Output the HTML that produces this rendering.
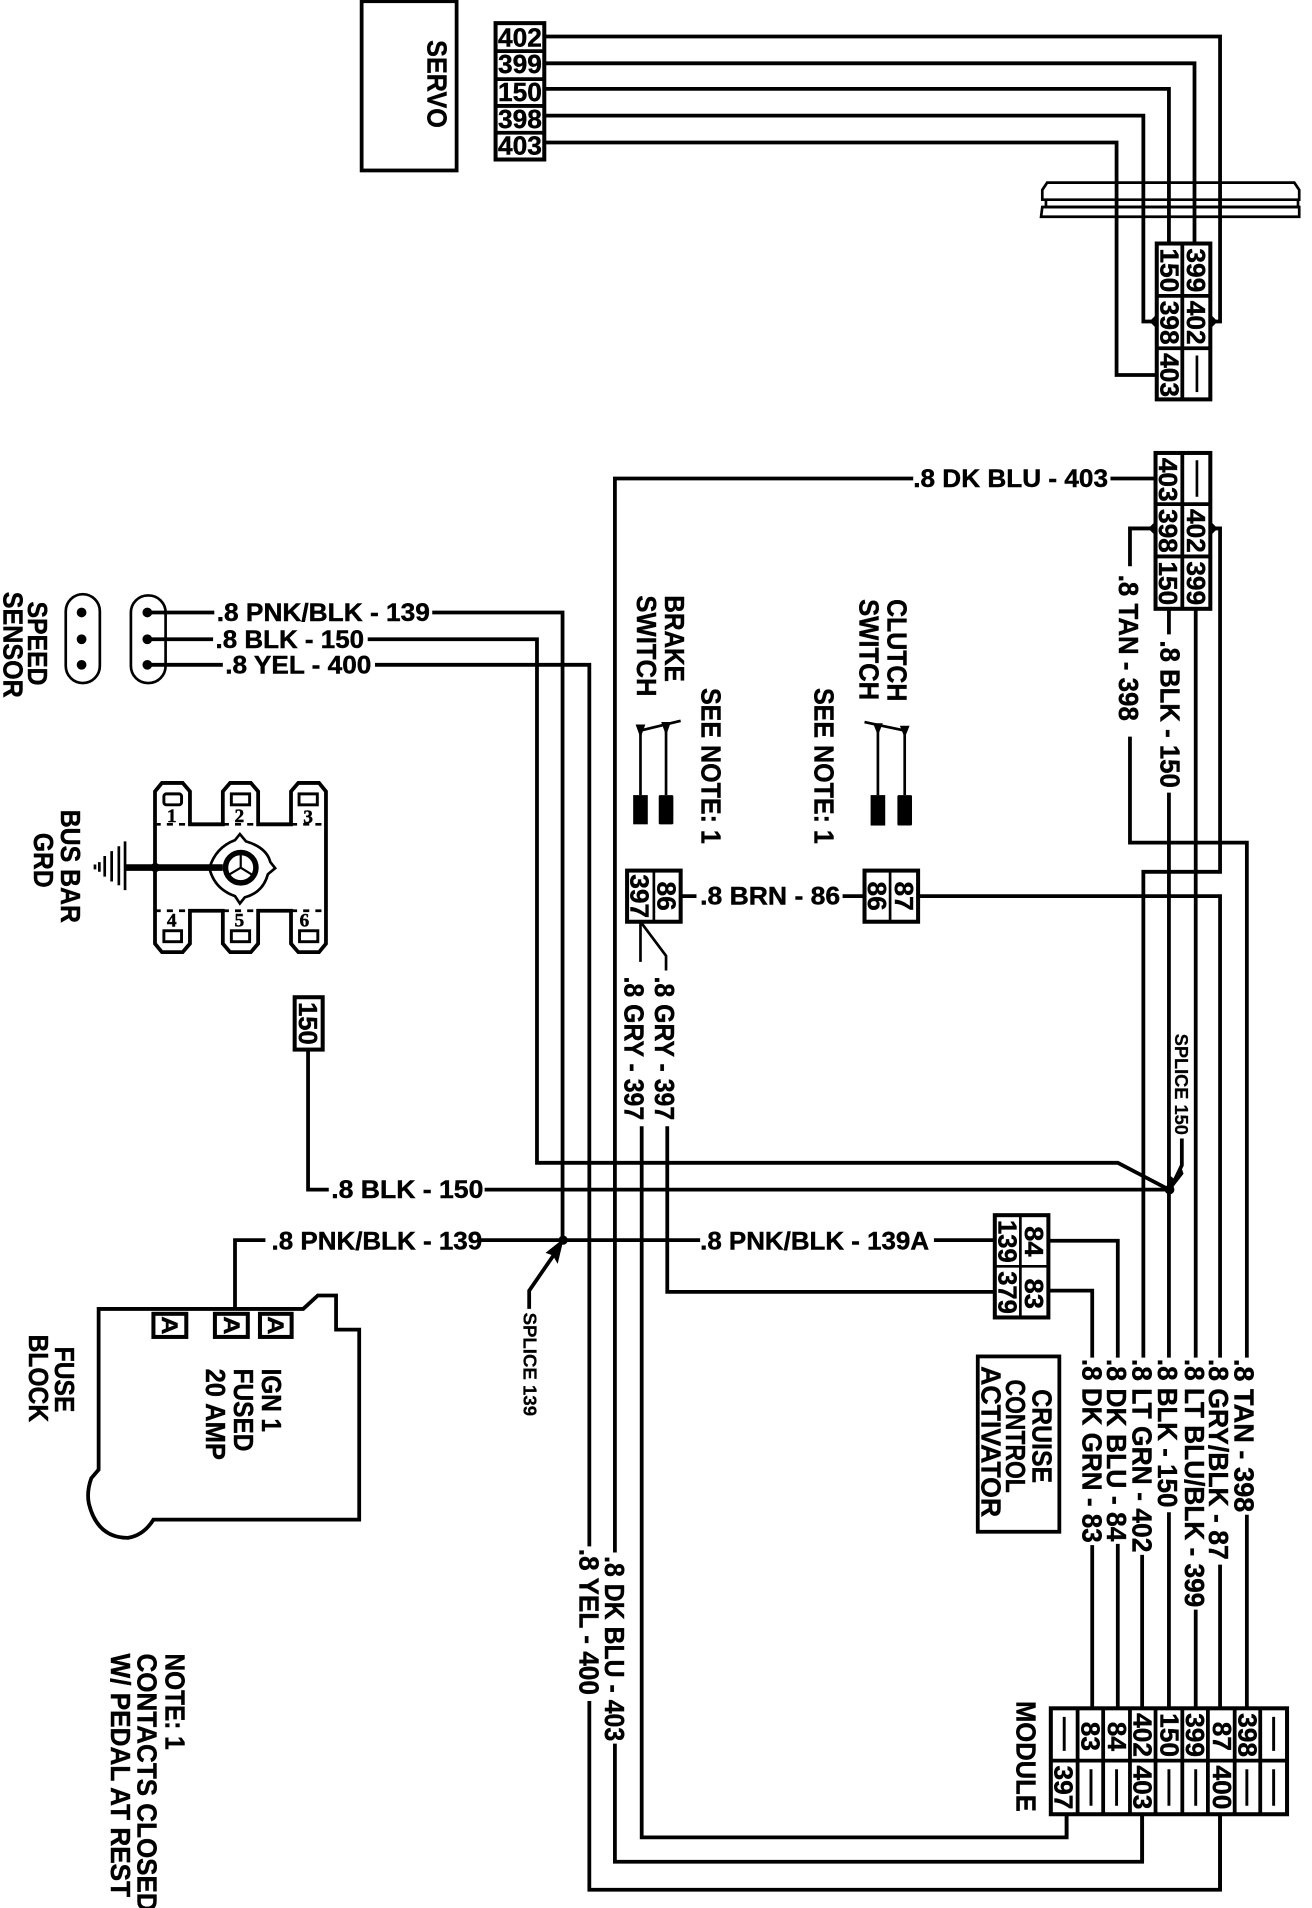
<!DOCTYPE html>
<html><head><meta charset="utf-8"><style>
html,body{margin:0;padding:0;background:#fff}
svg{display:block}
text{font-family:"Liberation Sans",sans-serif;font-weight:bold;fill:#000;stroke:#000;stroke-width:.35;font-size:20.5px}
text[transform]{font-size:22.5px}
.w{fill:none;stroke:#000;stroke-width:3.1}
.n{fill:none;stroke:#000;stroke-width:2.2}
.b{fill:#fff;stroke:#000;stroke-width:3.3}
text.s{font-size:15px;stroke-width:.2}
text.c{font-size:21.5px}
.d{font-family:"Liberation Serif",serif;font-size:16px;text-anchor:middle}
</style></head><body>
<svg xmlns="http://www.w3.org/2000/svg" width="1312" height="1908" viewBox="0 0 1077.5 1567" preserveAspectRatio="none">
<rect width="1077.5" height="1567" fill="#fff"/>

<!-- servo -->
<rect x="297" y="1" width="78" height="139" class="w"/>
<text transform="translate(351,33) rotate(90)" textLength="72" lengthAdjust="spacingAndGlyphs">SERVO</text>

<!-- wires top -->
<path class="w" d="M447,30H1002V264H993M447,52H981V201M447,73H960V201M447,95H939V264H950M447,117H917V308H950"/>

<!-- grommet -->
<path class="n" d="M860,150H1063L1067,156V164H856V156Z"/>
<path class="n" d="M859,164V170H1066V164"/>
<path class="n" d="M856,170H1067V178H855Z"/>

<!-- top-left connector -->
<rect x="407" y="19" width="40" height="112" class="b"/>
<path class="w" d="M407,42H447M407,65H447M407,87H447M407,109H447"/>
<text class="c" x="409" y="38" textLength="36" lengthAdjust="spacingAndGlyphs">402</text>
<text class="c" x="409" y="60" textLength="36" lengthAdjust="spacingAndGlyphs">399</text>
<text class="c" x="409" y="83" textLength="36" lengthAdjust="spacingAndGlyphs">150</text>
<text class="c" x="409" y="105" textLength="36" lengthAdjust="spacingAndGlyphs">398</text>
<text class="c" x="409" y="127" textLength="36" lengthAdjust="spacingAndGlyphs">403</text>

<!-- upper right connector -->
<rect x="950" y="200" width="44" height="128" class="b"/>
<path class="w" d="M971,200V328M950,243H994M950,286H994"/>
<text class="c" transform="translate(953,204) rotate(90)" textLength="36" lengthAdjust="spacingAndGlyphs">150</text>
<text class="c" transform="translate(953,247) rotate(90)" textLength="36" lengthAdjust="spacingAndGlyphs">398</text>
<text class="c" transform="translate(953,290) rotate(90)" textLength="36" lengthAdjust="spacingAndGlyphs">403</text>
<text class="c" transform="translate(975,204) rotate(90)" textLength="36" lengthAdjust="spacingAndGlyphs">399</text>
<text class="c" transform="translate(975,247) rotate(90)" textLength="36" lengthAdjust="spacingAndGlyphs">402</text>
<path class="n" d="M983,292V322"/>
<path d="M950,258L944,264L950,270ZM994,258L1000,264L994,270Z" fill="#000"/>

<!-- lower right connector -->
<rect x="949" y="372" width="45" height="128" class="b"/>
<path class="w" d="M971,372V500M949,414H994M949,457H994"/>
<text class="c" transform="translate(952,376) rotate(90)" textLength="36" lengthAdjust="spacingAndGlyphs">403</text>
<text class="c" transform="translate(952,418) rotate(90)" textLength="36" lengthAdjust="spacingAndGlyphs">398</text>
<text class="c" transform="translate(952,461) rotate(90)" textLength="36" lengthAdjust="spacingAndGlyphs">150</text>
<text class="c" transform="translate(975,418) rotate(90)" textLength="36" lengthAdjust="spacingAndGlyphs">402</text>
<text class="c" transform="translate(975,461) rotate(90)" textLength="36" lengthAdjust="spacingAndGlyphs">399</text>
<path class="n" d="M983,378V408"/>
<path d="M949,428L943,434L949,440ZM994,428L1000,434L994,440Z" fill="#000"/>

<!-- right-hand wires -->
<path class="w" d="M949,434H928V465M928,605V692H1024V1115"/>
<path class="w" d="M994,434H1002V716H939V1115"/>
<path class="w" d="M960,500V521M960,651V1115"/>
<path class="w" d="M982,500V1115"/>
<path class="w" d="M754,736H1002V1115"/>

<text transform="translate(919,472) rotate(90)" textLength="120" lengthAdjust="spacingAndGlyphs">.8 TAN - 398</text>
<text transform="translate(953,526) rotate(90)" textLength="121" lengthAdjust="spacingAndGlyphs">.8 BLK - 150</text>
<path class="w" d="M750,393H505V1275M912,393H949"/>
<text x="750" y="400" textLength="160" lengthAdjust="spacingAndGlyphs">.8 DK BLU - 403</text>

<!-- speed sensor -->
<rect x="54" y="488" width="28" height="73" rx="14" class="n"/>
<rect x="107.5" y="489" width="28.5" height="72" rx="14" class="n"/>
<g fill="#000"><circle cx="67" cy="503" r="4"/><circle cx="67" cy="525" r="4"/><circle cx="67" cy="546" r="4"/><circle cx="121" cy="503" r="4"/><circle cx="121" cy="525" r="4"/><circle cx="121" cy="546" r="4"/></g>
<text transform="translate(23,494) rotate(90)" textLength="69" lengthAdjust="spacingAndGlyphs">SPEED</text>
<text transform="translate(3,486) rotate(90)" textLength="87" lengthAdjust="spacingAndGlyphs">SENSOR</text>

<path class="w" d="M121,503H176M355,503H462V1018"/>
<path class="w" d="M121,525H175M302,525H441V955H918L960,977"/>
<path class="w" d="M121,546H183M308,546H484V1270"/>
<text x="178" y="510" textLength="175" lengthAdjust="spacingAndGlyphs">.8 PNK/BLK - 139</text>
<text x="177" y="532" textLength="122" lengthAdjust="spacingAndGlyphs">.8 BLK - 150</text>
<text x="185" y="553" textLength="120" lengthAdjust="spacingAndGlyphs">.8 YEL - 400</text>

<!-- bus bar -->
<text transform="translate(50,665) rotate(90)" textLength="93" lengthAdjust="spacingAndGlyphs">BUS BAR</text>
<text transform="translate(28,684) rotate(90)" textLength="45" lengthAdjust="spacingAndGlyphs">GRD</text>
<path class="w" d="M127.3,748V650L133,643H150L156,650V677H183V650L189,643H206L212,650V677H239V650L245,643H262L267.7,650V775L262,782H245L239,775V748H212V775L206,782H189L183,775V748H156V775L150,782H133L127.3,775Z"/>
<path fill="#fff" d="M130,672H153V679H130ZM186,672H209V679H186ZM242,672H265V679H242ZM130,746H153V752H130ZM186,746H209V752H186ZM242,746H265V752H242Z"/>
<path class="n" d="M127,677H156M183,677H212M239,677H268M127,748H156M183,748H212M239,748H268" stroke-dasharray="5 5"/>
<g fill="none" stroke="#000" stroke-width="2.4">
<rect x="134.6" y="652" width="14.5" height="9" rx="2"/><rect x="190" y="652" width="15" height="9"/><rect x="245.6" y="652" width="15" height="9"/>
<rect x="134.6" y="764.4" width="14.5" height="9"/><rect x="190" y="764.4" width="15" height="9"/><rect x="246" y="764.4" width="15" height="9"/>
</g>
<text class="d" x="141" y="675">1</text>
<text class="d" x="196.6" y="675">2</text>
<text class="d" x="253" y="676">3</text>
<text class="d" x="141" y="761">4</text>
<text class="d" x="196.6" y="761">5</text>
<text class="d" x="250" y="761">6</text>
<path d="M103,712.5H183" stroke="#000" stroke-width="5.5"/>
<circle cx="127.5" cy="712.5" r="3.8"/>
<path class="n" d="M197,685L202,691Q219,696 222,708L226,713L220,718Q216,733 201,737L197,742L193,736Q176,730 172,713Q177,696 193,690Z"/>
<circle cx="197.7" cy="712.6" r="12.5" fill="#fff" stroke="#000" stroke-width="4.5"/>
<path d="M197.7,712.6V701M197.7,712.6L187,719M197.7,712.6L208,719" stroke="#000" stroke-width="1.8"/>
<path d="M102.7,691V731M97.6,695V727M91.7,699V724M86,703V720M81.6,708V716M78,710V714" stroke="#000" stroke-width="2.2"/>

<!-- switches -->
<text transform="translate(546,489) rotate(90)" textLength="71" lengthAdjust="spacingAndGlyphs">BRAKE</text>
<text transform="translate(523,489) rotate(90)" textLength="83" lengthAdjust="spacingAndGlyphs">SWITCH</text>
<text transform="translate(729,492) rotate(90)" textLength="84" lengthAdjust="spacingAndGlyphs">CLUTCH</text>
<text transform="translate(706,492) rotate(90)" textLength="83" lengthAdjust="spacingAndGlyphs">SWITCH</text>
<text transform="translate(576,565) rotate(90)" textLength="128" lengthAdjust="spacingAndGlyphs">SEE NOTE: 1</text>
<text transform="translate(669,565) rotate(90)" textLength="128" lengthAdjust="spacingAndGlyphs">SEE NOTE: 1</text>

<path class="n" d="M526,600L559,592M526,600V653M547,597V653"/>
<path class="n" d="M710,593L743,600M721,597V653M743,600V653"/>
<g fill="#000"><path d="M522,595L530,595L526,606ZM543,593L551,593L547,604ZM717,594L725,594L721,604ZM739,596L747,596L743,606Z"/>
<rect x="520" y="653" width="12" height="24"/><rect x="541" y="653" width="12" height="24" rx="1"/><rect x="715" y="653" width="12" height="25"/><rect x="737" y="653" width="12" height="25" rx="1"/></g>

<!-- brake / clutch connectors -->
<rect x="515" y="715" width="44" height="42" class="b"/>
<path class="n" d="M537,715V757"/>
<text class="c" transform="translate(518,718) rotate(90)" textLength="36" lengthAdjust="spacingAndGlyphs">397</text>
<text class="c" transform="translate(540,724) rotate(90)" textLength="24" lengthAdjust="spacingAndGlyphs">86</text>
<rect x="710" y="715" width="44" height="42" class="b"/>
<path class="n" d="M731,715V757"/>
<text class="c" transform="translate(713,724) rotate(90)" textLength="24" lengthAdjust="spacingAndGlyphs">86</text>
<text class="c" transform="translate(735,724) rotate(90)" textLength="24" lengthAdjust="spacingAndGlyphs">87</text>
<path class="w" d="M559,736H572M692,736H710"/>
<text x="575" y="743" textLength="115" lengthAdjust="spacingAndGlyphs">.8 BRN - 86</text>
<path class="n" d="M526,757V790M526,757L547,785V797"/>
<text transform="translate(538,802) rotate(90)" textLength="118" lengthAdjust="spacingAndGlyphs">.8 GRY - 397</text>
<text transform="translate(513,802) rotate(90)" textLength="118" lengthAdjust="spacingAndGlyphs">.8 GRY - 397</text>
<path class="w" d="M527,925V1509H876V1491"/>
<path class="w" d="M548,925V1061H817"/>

<!-- 150 stub -->
<rect x="242" y="819" width="23" height="43" class="b"/>
<text class="c" transform="translate(245.5,823) rotate(90)" textLength="35" lengthAdjust="spacingAndGlyphs">150</text>
<path class="w" d="M253,862V977H270M398,977H960"/>
<text x="272" y="984" textLength="125" lengthAdjust="spacingAndGlyphs">.8 BLK - 150</text>
<circle cx="960.5" cy="977" r="4"/>
<path class="w" d="M970.6,935V957L962,975"/>
<path d="M961,978L959,964L964,968L970,958L972,964Z" fill="#000"/>
<text class="s" transform="translate(965,849) rotate(90)" textLength="83" lengthAdjust="spacingAndGlyphs">SPLICE 150</text>

<!-- 139 -->
<path class="w" d="M193,1075V1018.5H218M395,1018.5H575M767,1018.5H817"/>
<text x="223" y="1026" textLength="173" lengthAdjust="spacingAndGlyphs">.8 PNK/BLK - 139</text>
<text x="575" y="1026" textLength="188" lengthAdjust="spacingAndGlyphs">.8 PNK/BLK - 139A</text>
<path class="w" d="M434.6,1075V1060L458,1026"/>
<path d="M463,1017L448,1029L454,1031L458,1038Z" fill="#000"/>
<circle cx="462.5" cy="1018.5" r="3.8"/>
<text class="s" transform="translate(430,1078) rotate(90)" textLength="85" lengthAdjust="spacingAndGlyphs">SPLICE 139</text>

<!-- activator -->
<rect x="817" y="998" width="44" height="84" class="b"/>
<path class="n" d="M838,998V1082M817,1040H861"/>
<text class="c" transform="translate(820,1002) rotate(90)" textLength="35" lengthAdjust="spacingAndGlyphs">139</text>
<text class="c" transform="translate(820,1044) rotate(90)" textLength="35" lengthAdjust="spacingAndGlyphs">379</text>
<text class="c" transform="translate(842,1007) rotate(90)" textLength="25" lengthAdjust="spacingAndGlyphs">84</text>
<text class="c" transform="translate(842,1050) rotate(90)" textLength="25" lengthAdjust="spacingAndGlyphs">83</text>
<path class="w" d="M861,1019H918V1115M861,1060H897V1115"/>

<rect x="803" y="1114" width="67" height="144" class="w"/>
<text transform="translate(848,1141) rotate(90)" textLength="77" lengthAdjust="spacingAndGlyphs">CRUISE</text>
<text transform="translate(826,1133) rotate(90)" textLength="93" lengthAdjust="spacingAndGlyphs">CONTROL</text>
<text transform="translate(806,1122) rotate(90)" textLength="124" lengthAdjust="spacingAndGlyphs">ACTIVATOR</text>

<!-- bottom labels -->
<text transform="translate(1014,1116) rotate(90)" textLength="126" lengthAdjust="spacingAndGlyphs">.8 TAN - 398</text>
<text transform="translate(993,1116) rotate(90)" textLength="165" lengthAdjust="spacingAndGlyphs">.8 GRY/BLK - 87</text>
<text transform="translate(973,1116) rotate(90)" textLength="204" lengthAdjust="spacingAndGlyphs">.8 LT BLU/BLK - 399</text>
<text transform="translate(951,1116) rotate(90)" textLength="122" lengthAdjust="spacingAndGlyphs">.8 BLK - 150</text>
<text transform="translate(930,1116) rotate(90)" textLength="159" lengthAdjust="spacingAndGlyphs">.8 LT GRN - 402</text>
<text transform="translate(909,1116) rotate(90)" textLength="150" lengthAdjust="spacingAndGlyphs">.8 DK BLU - 84</text>
<text transform="translate(889,1116) rotate(90)" textLength="151" lengthAdjust="spacingAndGlyphs">.8 DK GRN - 83</text>
<text transform="translate(497,1278) rotate(90)" textLength="152" lengthAdjust="spacingAndGlyphs">.8 DK BLU - 403</text>
<text transform="translate(476,1272) rotate(90)" textLength="120" lengthAdjust="spacingAndGlyphs">.8 YEL - 400</text>

<path class="w" d="M1024,1244V1403M1002,1285V1403M982,1322V1403M960,1242V1403M938,1277V1403M918,1268V1403M897,1269V1403"/>
<path class="w" d="M505,1432V1529H938V1491"/>
<path class="w" d="M484,1397V1552H1002V1491"/>

<!-- module -->
<text transform="translate(835,1397) rotate(90)" textLength="91" lengthAdjust="spacingAndGlyphs">MODULE</text>
<rect x="863" y="1403" width="194" height="87" class="b"/>
<path class="w" d="M863,1446H1057M885,1403V1490M906,1403V1490M928,1403V1490M949,1403V1490M971,1403V1490M992,1403V1490M1014,1403V1490M1035,1403V1490"/>
<g>
<text class="c" transform="translate(888,1414) rotate(90)" textLength="24" lengthAdjust="spacingAndGlyphs">83</text>
<text class="c" transform="translate(910,1414) rotate(90)" textLength="24" lengthAdjust="spacingAndGlyphs">84</text>
<text class="c" transform="translate(931,1407) rotate(90)" textLength="36" lengthAdjust="spacingAndGlyphs">402</text>
<text class="c" transform="translate(953,1407) rotate(90)" textLength="36" lengthAdjust="spacingAndGlyphs">150</text>
<text class="c" transform="translate(974,1407) rotate(90)" textLength="36" lengthAdjust="spacingAndGlyphs">399</text>
<text class="c" transform="translate(996,1414) rotate(90)" textLength="24" lengthAdjust="spacingAndGlyphs">87</text>
<text class="c" transform="translate(1017,1407) rotate(90)" textLength="36" lengthAdjust="spacingAndGlyphs">398</text>
<text class="c" transform="translate(866,1450) rotate(90)" textLength="36" lengthAdjust="spacingAndGlyphs">397</text>
<text class="c" transform="translate(931,1450) rotate(90)" textLength="36" lengthAdjust="spacingAndGlyphs">403</text>
<text class="c" transform="translate(996,1450) rotate(90)" textLength="36" lengthAdjust="spacingAndGlyphs">400</text>
</g>
<path d="M874,1410V1438M1046,1410V1438M896,1453V1483M917,1453V1483M960,1453V1483M982,1453V1483M1024,1453V1483M1046,1453V1483" stroke="#000" stroke-width="2.4"/>
<path class="w" d="M876,1490V1509M938,1490V1529M1002,1490V1552"/>

<!-- fuse block -->
<path class="w" d="M193,1075H81V1207L75,1214Q71,1225 73,1235Q80,1263 105,1263Q118,1261 126,1248H295V1092H276V1064H261L249,1075H193"/>
<rect x="126" y="1079" width="27" height="19" class="b"/>
<rect x="176.5" y="1079" width="27" height="19" class="b"/>
<rect x="213.5" y="1079" width="26" height="19" class="b"/>
<text transform="translate(133,1081) rotate(90)" textLength="15" lengthAdjust="spacingAndGlyphs" style="font-size:18px">A</text>
<text transform="translate(184,1081) rotate(90)" textLength="15" lengthAdjust="spacingAndGlyphs" style="font-size:18px">A</text>
<text transform="translate(220,1081) rotate(90)" textLength="15" lengthAdjust="spacingAndGlyphs" style="font-size:18px">A</text>
<text transform="translate(215,1124) rotate(90)" textLength="52" lengthAdjust="spacingAndGlyphs">IGN 1</text>
<text transform="translate(192,1124) rotate(90)" textLength="68" lengthAdjust="spacingAndGlyphs">FUSED</text>
<text transform="translate(169,1124) rotate(90)" textLength="75" lengthAdjust="spacingAndGlyphs">20 AMP</text>
<text transform="translate(45,1106) rotate(90)" textLength="54" lengthAdjust="spacingAndGlyphs">FUSE</text>
<text transform="translate(24,1096) rotate(90)" textLength="72" lengthAdjust="spacingAndGlyphs">BLOCK</text>

<text transform="translate(136,1358) rotate(90)" textLength="79" lengthAdjust="spacingAndGlyphs">NOTE: 1</text>
<text transform="translate(113,1358) rotate(90)" textLength="212" lengthAdjust="spacingAndGlyphs">CONTACTS CLOSED</text>
<text transform="translate(91,1358) rotate(90)" textLength="200" lengthAdjust="spacingAndGlyphs">W/ PEDAL AT REST</text>
</svg>
</body></html>
